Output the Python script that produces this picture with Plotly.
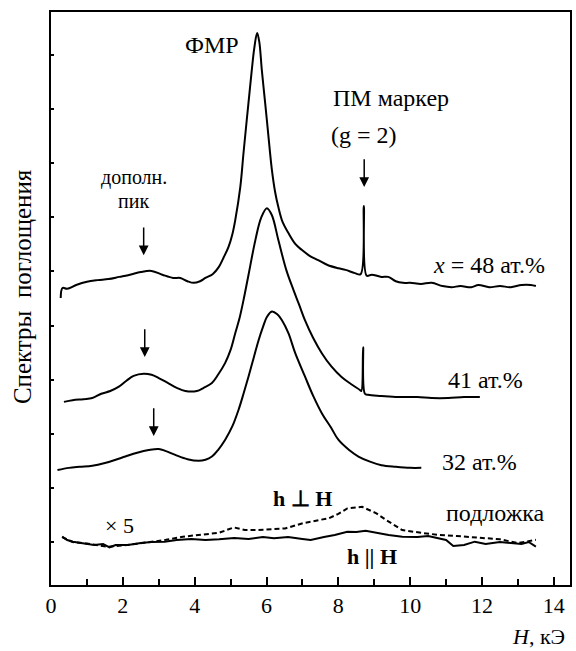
import plotly.graph_objects as go

# ---------------- data ----------------
# x = 48 at.%
x48 = [0.27, 0.32, 0.45, 0.7, 1.0, 1.3, 1.6, 1.9, 2.2, 2.5, 2.8, 3.1, 3.4, 3.6, 3.8, 3.97,
       4.15, 4.3, 4.5, 4.67, 4.8, 4.94, 5.05, 5.13, 5.27, 5.36, 5.45, 5.52, 5.59, 5.66, 5.74,
       5.8, 5.87, 5.94, 6.01, 6.08, 6.15, 6.24, 6.33, 6.45, 6.61, 6.8, 6.98, 7.2, 7.44, 7.7,
       8.0, 8.2, 8.46, 8.62, 8.71, 8.79, 8.93, 9.2, 9.39, 9.6, 9.8, 10.0, 10.3, 10.6, 10.9,
       11.15, 11.4, 11.7, 11.9, 12.2, 12.5, 12.8, 13.1, 13.36, 13.5]
y48 = [4.51, 4.695, 4.68, 4.75, 4.81, 4.84, 4.86, 4.90, 4.94, 4.99, 5.01, 4.94, 4.88, 4.88, 4.82, 4.79,
       4.82, 4.88, 4.95, 5.08, 5.25, 5.45, 5.69, 5.95, 6.56, 7.19, 7.80, 8.26, 8.72, 9.13, 9.41,
       9.24, 8.72, 8.26, 7.80, 7.32, 6.88, 6.47, 6.19, 5.91, 5.71, 5.51, 5.40, 5.29, 5.21, 5.12,
       5.06, 5.03, 4.97, 4.95, 6.21, 4.92, 4.94, 4.90, 4.90, 4.82, 4.79, 4.79, 4.77, 4.79, 4.73,
       4.71, 4.73, 4.71, 4.75, 4.71, 4.73, 4.71, 4.75, 4.75, 4.73]

# 41 at.%
x41 = [0.36, 0.6, 0.9, 1.15, 1.4, 1.65, 1.89, 2.1, 2.3, 2.58, 2.8, 3.0, 3.25, 3.5, 3.74, 4.06,
       4.25, 4.48, 4.65, 4.85, 5.0, 5.13, 5.25, 5.36, 5.5, 5.69, 5.85, 6.01, 6.15, 6.33, 6.55,
       6.75, 6.9, 7.07, 7.3, 7.54, 7.8, 8.09, 8.35, 8.6, 8.64, 8.69, 8.74, 8.83, 9.2, 9.67,
       10.2, 10.6, 11.06, 11.5, 11.94]
y41 = [2.59, 2.62, 2.64, 2.66, 2.74, 2.79, 2.87, 2.98, 3.07, 3.11, 3.09, 3.03, 2.94, 2.85, 2.79, 2.79,
       2.85, 2.94, 3.09, 3.31, 3.55, 3.86, 4.14, 4.47, 4.94, 5.58, 5.99, 6.17, 6.04, 5.58, 5.03,
       4.66, 4.40, 4.10, 3.77, 3.49, 3.25, 3.05, 2.92, 2.81, 2.79, 3.60, 2.74, 2.72, 2.70, 2.68,
       2.68, 2.66, 2.66, 2.68, 2.68]

# 32 at.%
x32 = [0.18, 0.5, 0.8, 1.15, 1.5, 1.8, 2.07, 2.4, 2.72, 3.0, 3.2, 3.46, 3.8, 4.11, 4.3, 4.48,
       4.65, 4.85, 5.05, 5.22, 5.36, 5.5, 5.65, 5.78, 5.9, 6.01, 6.15, 6.3, 6.43, 6.61, 6.8,
       7.07, 7.3, 7.54, 7.8, 8.0, 8.3, 8.56, 8.9, 9.2, 9.6, 10.0, 10.31]
y32 = [1.33, 1.37, 1.39, 1.41, 1.46, 1.52, 1.58, 1.65, 1.70, 1.72, 1.68, 1.61, 1.53, 1.50, 1.52, 1.58,
       1.70, 1.89, 2.14, 2.44, 2.74, 3.06, 3.42, 3.73, 3.97, 4.16, 4.26, 4.21, 4.10, 3.86, 3.49,
       3.06, 2.70, 2.38, 2.11, 1.89, 1.70, 1.58, 1.48, 1.42, 1.39, 1.37, 1.37]

# substrate, h || H (x5)
x_par = [0.31, 0.45, 0.61, 0.9, 1.2, 1.45, 1.63, 1.8, 2.14, 2.5, 2.8, 3.16, 3.5, 3.9, 4.3, 4.68,
         5.1, 5.5, 5.9, 6.21, 6.6, 7.0, 7.23, 7.6, 7.9, 8.25, 8.5, 8.76, 9.1, 9.4, 9.78, 10.2,
         10.5, 10.8, 11.0, 11.2, 11.5, 11.8, 12.1, 12.5, 12.8, 13.1, 13.3, 13.5]
y_par = [0.098, 0.037, 0.006, -0.018, -0.055, -0.037, -0.098, -0.055, -0.055, -0.018, 0.0, 0.006,
         0.037, 0.055, 0.037, 0.050, 0.074, 0.055, 0.092, 0.068, 0.092, 0.055, 0.037, 0.092,
         0.129, 0.19, 0.185, 0.209, 0.166, 0.129, 0.098, 0.092, 0.111, 0.068, 0.037, -0.074,
         -0.055, 0.006, -0.037, 0.0, -0.024, -0.037, 0.0, -0.087]

# substrate, h ⊥ H (x5)
x_perp = [0.31, 0.6, 1.0, 1.6, 2.2, 2.8, 3.2, 3.67, 4.2, 4.68, 5.09, 5.4, 5.7, 6.1, 6.52, 7.03,
          7.4, 7.74, 8.0, 8.25, 8.66, 9.06, 9.3, 9.47, 9.78, 10.3, 10.8, 11.3, 11.7, 12.1, 12.5,
          13.0, 13.3, 13.5]
y_perp = [0.09, 0.0, -0.03, -0.09, -0.05, 0.0, 0.04, 0.098, 0.13, 0.17, 0.27, 0.22, 0.22, 0.24,
          0.25, 0.35, 0.40, 0.44, 0.52, 0.62, 0.65, 0.53, 0.42, 0.35, 0.22, 0.17, 0.13, 0.11,
          0.09, 0.07, 0.05, -0.02, 0.02, 0.04]

x_ticks = [0, 2, 4, 6, 8, 10, 12, 14]
x_tick_labels = ["0", "2", "4", "6", "8", "10", "12", "14"]

# ---------------- figure ----------------
FONT = "'Liberation Serif', 'Times New Roman', serif"
line = dict(color="black", width=2)

fig = go.Figure()
fig.add_trace(go.Scatter(x=x48, y=y48, mode="lines", line=line, line_shape="spline"))
fig.add_trace(go.Scatter(x=x41, y=y41, mode="lines", line=line, line_shape="spline"))
fig.add_trace(go.Scatter(x=x32, y=y32, mode="lines", line=line, line_shape="spline"))
fig.add_trace(go.Scatter(x=x_perp, y=y_perp, mode="lines",
                         line=dict(color="black", width=2, dash="5px,3px")))
fig.add_trace(go.Scatter(x=x_par, y=y_par, mode="lines", line=dict(color="black", width=2)))

ann = []
def txt(x, y, s, size=24, **kw):
    d = dict(x=x, y=y, xref="x", yref="y", text=s, showarrow=False,
             font=dict(family=FONT, size=size, color="black"),
             xanchor="center", yanchor="middle")
    d.update(kw)
    ann.append(d)

def arrow(x, y_tail, y_head):
    ann.append(dict(x=x, y=y_head, ax=x, ay=y_tail, xref="x", yref="y",
                    axref="x", ayref="y", text="", showarrow=True,
                    arrowhead=2, arrowsize=1.3, arrowwidth=1.5,
                    arrowcolor="black", standoff=0, startstandoff=0))

txt(4.47, 9.19, "ФМР")
txt(9.47, 8.21, "ПМ маркер")
txt(8.71, 7.52, "(g = 2)")
arrow(8.72, 7.10, 6.56)
txt(2.31, 6.73, "дополн.", size=20)
txt(2.31, 6.30, "пик", size=20)
arrow(2.58, 5.84, 5.30)
arrow(2.61, 3.96, 3.42)
arrow(2.86, 2.50, 1.96)
txt(12.19, 5.12, "<i>x</i> = 48 ат.%")
txt(12.1, 2.99, "41 ат.%")
txt(11.94, 1.48, "32 ат.%")
txt(7.0, 0.81, "<b>h ⊥ H</b>", size=22)
txt(12.37, 0.54, "подложка")
txt(1.9, 0.31, "× 5", size=22)
txt(8.93, -0.27, "<b>h || H</b>", size=22)

# axis titles as paper annotations
ann.append(dict(x=-(51 - 22) / 521, y=(585 - 287) / 573, xref="paper", yref="paper",
                text="Спектры  поглощения", textangle=-90, showarrow=False,
                font=dict(family=FONT, size=25, color="black"),
                xanchor="center", yanchor="middle"))
ann.append(dict(x=(540 - 51) / 521, y=-(636 - 585) / 573, xref="paper", yref="paper",
                text="<i>H</i>, кЭ", showarrow=False,
                font=dict(family=FONT, size=22, color="black"),
                xanchor="center", yanchor="middle"))

fig.update_layout(
    width=576, height=651,
    margin=dict(l=51, r=4, t=12, b=66),
    paper_bgcolor="white", plot_bgcolor="white",
    showlegend=False,
    annotations=ann,
    font=dict(family=FONT, color="black"),
)
fig.update_xaxes(range=[0, 14.45], tickmode="array", tickvals=x_ticks, ticktext=x_tick_labels,
                 ticks="inside", ticklen=8, tickwidth=1.5, tickcolor="black",
                 minor=dict(ticks="inside", ticklen=6, tickwidth=1.5, tickcolor="black", dtick=1,
                            tick0=0),
                 showline=True, linecolor="black", linewidth=2, mirror=True,
                 showgrid=False, zeroline=False,
                 tickfont=dict(family=FONT, size=22, color="black"))
fig.update_yaxes(range=[-0.795, 9.796], tick0=0, dtick=1,
                 ticks="inside", ticklen=3, tickwidth=1.5, tickcolor="black",
                 showticklabels=False,
                 showline=True, linecolor="black", linewidth=2, mirror=True,
                 showgrid=False, zeroline=False)

fig.write_html("out.html", config={"displayModeBar": False},
               post_script="document.body.style.margin='0px';")
